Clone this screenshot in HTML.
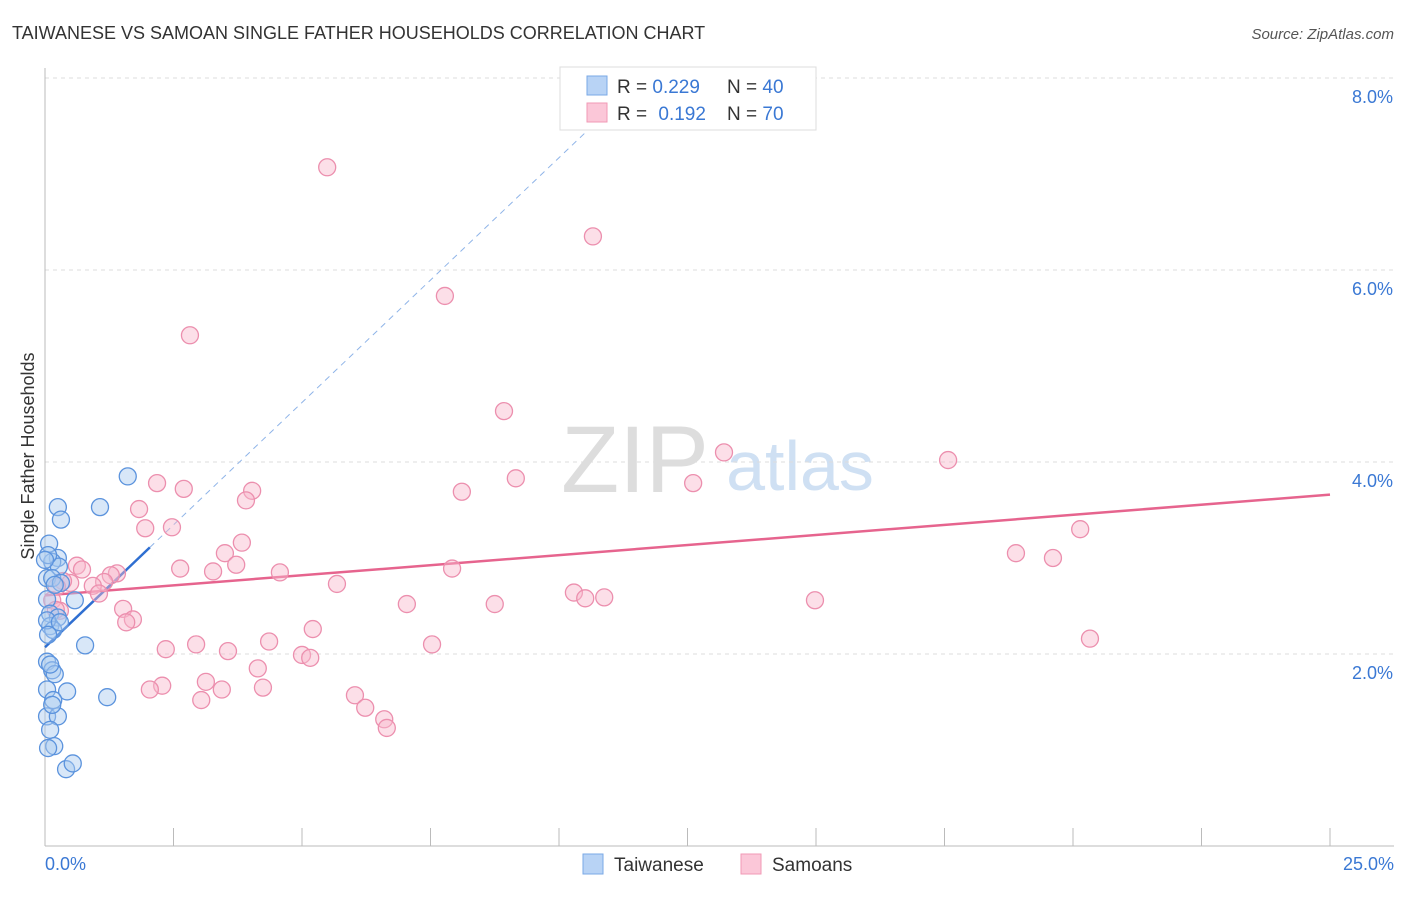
<!DOCTYPE html>
<html><head><meta charset="utf-8"><style>
body{margin:0;background:#fff;font-family:"Liberation Sans",sans-serif;}
svg text{font-family:"Liberation Sans",sans-serif;}
</style></head><body>
<svg width="1406" height="892" xmlns="http://www.w3.org/2000/svg">
<text x="12" y="39" font-size="18" fill="#333">TAIWANESE VS SAMOAN SINGLE FATHER HOUSEHOLDS CORRELATION CHART</text>
<text x="1394" y="39" font-size="15" fill="#555" font-style="italic" text-anchor="end">Source: ZipAtlas.com</text>
<text x="635" y="492" font-size="95" fill="#ddd" font-family="Liberation Serif" text-anchor="middle">ZIP</text>
<text x="800" y="490" font-size="70" fill="#cfe0f3" text-anchor="middle">atlas</text>
<g id="grid"></g><g id="axes"></g><g id="lines"></g><g id="pts"></g>
<text transform="translate(34,456) rotate(-90)" font-size="18" fill="#333" text-anchor="middle">Single Father Households</text>
<text x="45" y="870" font-size="18" fill="#3a78d4">0.0%</text>
<text x="1394" y="870" font-size="18" fill="#3a78d4" text-anchor="end">25.0%</text>
<g>
<rect x="560" y="67" width="256" height="63" fill="#fff" stroke="#ddd"/>
<rect x="587" y="76" width="20" height="19" fill="#b8d3f5" stroke="#7aa8e6"/>
<rect x="587" y="103" width="20" height="19" fill="#fbc7d8" stroke="#f09ab6"/>
<text x="617" y="93" font-size="19" fill="#333">R = <tspan fill="#3a78d4">0.229</tspan><tspan x="727">N = </tspan><tspan fill="#3a78d4">40</tspan></text>
<text x="617" y="120" font-size="19" fill="#333">R = <tspan fill="#3a78d4" dx="6">0.192</tspan><tspan x="727">N = </tspan><tspan fill="#3a78d4">70</tspan></text>
</g>
<g>
<rect x="583" y="854" width="20" height="20" fill="#b8d3f5" stroke="#7aa8e6"/>
<text x="614" y="871" font-size="19" fill="#333">Taiwanese</text>
<rect x="741" y="854" width="20" height="20" fill="#fbc7d8" stroke="#f09ab6"/>
<text x="772" y="871" font-size="19" fill="#333">Samoans</text>
</g>
</svg>
<script>
const yTicks=[2,4,6,8];
const yTickLabels=["2.0%","4.0%","6.0%","8.0%"];
const xTicks=[0,2.5,5,7.5,10,12.5,15,17.5,20,22.5,25];
const taiwaneseX=[1.61,0.25,1.07,0.31,0.08,0.25,0.14,0.27,0.04,0.14,0.31,0.04,0.58,0.10,0.25,0.10,0.16,0.78,0.04,0.14,0.19,0.04,0.43,1.21,0.16,0.04,0.25,0.10,0.18,0.06,0.41,0.54,0.06,0.19,0.04,0.29,0.06,0.10,0.0,0.14];
const taiwaneseY=[3.85,3.53,3.53,3.40,3.15,3.00,2.96,2.91,2.79,2.79,2.74,2.57,2.56,2.42,2.38,2.29,2.25,2.09,1.92,1.83,1.79,1.63,1.61,1.55,1.52,1.35,1.35,1.21,1.04,1.02,0.80,0.86,3.03,2.72,2.35,2.33,2.20,1.89,2.98,1.47];
const samoanX=[5.49,10.66,7.78,2.82,8.93,13.21,17.57,2.18,12.61,9.16,2.70,4.03,8.11,3.91,1.83,2.47,1.95,20.14,3.83,3.50,18.89,19.61,3.72,2.63,3.27,7.92,0.62,0.72,1.40,4.57,1.28,1.15,0.93,5.68,0.49,0.35,0.23,10.29,10.51,10.88,1.05,0.14,7.04,8.75,14.98,1.52,0.29,1.71,1.58,5.21,4.36,2.94,2.35,3.56,7.53,20.33,5.00,5.16,4.14,3.13,4.24,2.28,2.04,3.44,3.04,6.03,6.23,6.60,6.65,0.21];
const samoanY=[7.07,6.35,5.73,5.32,4.53,4.10,4.02,3.78,3.78,3.83,3.72,3.70,3.69,3.60,3.51,3.32,3.31,3.30,3.16,3.05,3.05,3.00,2.93,2.89,2.86,2.89,2.92,2.88,2.84,2.85,2.82,2.75,2.71,2.73,2.74,2.76,2.70,2.64,2.58,2.59,2.63,2.56,2.52,2.52,2.56,2.47,2.45,2.36,2.33,2.26,2.13,2.10,2.05,2.03,2.10,2.16,1.99,1.96,1.85,1.71,1.65,1.67,1.63,1.63,1.52,1.57,1.44,1.32,1.23,2.46];
const taiwaneseTrend=[2.07,0.51]; // intercept, slope
const samoanTrend=[2.61,0.042];

const NS="http://www.w3.org/2000/svg";
const X=v=>45+v*51.4, Y=v=>846-v*96;
function mk(p,t,a){const e=document.createElementNS(NS,t);for(const k in a)e.setAttribute(k,a[k]);document.getElementById(p).appendChild(e);return e;}
yTicks.forEach((t,i)=>{
 const g=mk('grid','line',{x1:45,x2:1394,y1:Y(t),y2:Y(t),stroke:'#ddd','stroke-dasharray':'4,4'});
 
 
 const tx=mk('grid','text',{x:1393,y:Y(t)+25,'font-size':18,fill:'#3a78d4','text-anchor':'end'});
 tx.textContent=yTickLabels[i];
 
 
});
const tg=mk('grid','line',{x1:45,x2:1394,y1:78,y2:78,stroke:'#ddd','stroke-dasharray':'4,4'});


const ya=mk('axes','line',{x1:45,x2:45,y1:68,y2:846,stroke:'#bbb'});


const xa=mk('axes','line',{x1:45,x2:1394,y1:846,y2:846,stroke:'#bbb'});


xTicks.forEach(t=>{
 const l=mk('axes','line',{x1:X(t),x2:X(t),y1:828,y2:846,stroke:'#bbb'});
 
 
});
function dots(xs,ys,fill,stroke,name){
 xs.forEach((x,i)=>{
  const c=mk('pts','circle',{cx:X(x),cy:Y(ys[i]),r:8.5,fill:fill,'fill-opacity':0.45,stroke:stroke,'stroke-width':1.3});
  
  
 });
}
dots(samoanX,samoanY,'#f8b8cc','#ec8fae','samoan-point');
dots(taiwaneseX,taiwaneseY,'#a9c9f0','#5b93dd','taiwanese-point');
const t0=taiwaneseTrend, s0=samoanTrend;
const xEnd=(8-t0[0])/t0[1];
const bd=mk('lines','line',{x1:X(2.04),y1:Y(t0[0]+t0[1]*2.04),x2:X(xEnd),y2:Y(8),stroke:'#8fb4e8','stroke-width':1,'stroke-dasharray':'6,5'});


const bs=mk('lines','line',{x1:X(0),y1:Y(t0[0]),x2:X(2.04),y2:Y(t0[0]+t0[1]*2.04),stroke:'#2f6fd1','stroke-width':2.5});


const ps=mk('lines','line',{x1:X(0),y1:Y(s0[0]),x2:X(25),y2:Y(s0[0]+s0[1]*25),stroke:'#e6648e','stroke-width':2.5});


</script>
</body></html>
